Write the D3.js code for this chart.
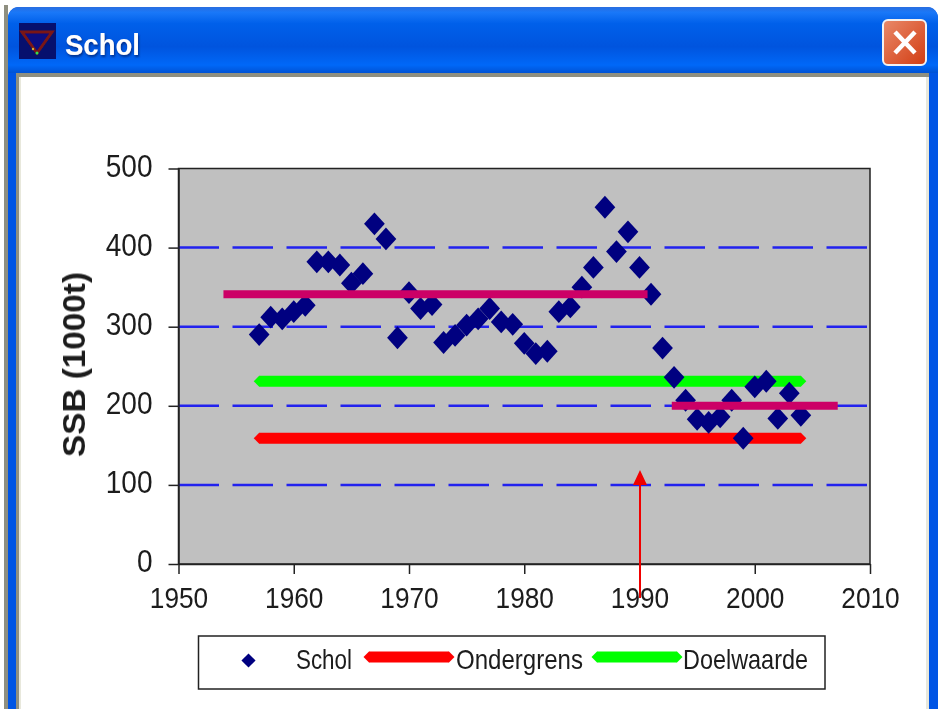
<!DOCTYPE html>
<html>
<head>
<meta charset="utf-8">
<script src="https://cdn.jsdelivr.net/npm/d3@7"></script>
<style>
html, body { margin: 0; padding: 0; background: #fff; }
svg { display: block; }
text { font-family: "Liberation Sans", Arial, sans-serif; fill: #1c1c1c; }
</style>
</head>
<body>
<script>
const years = [1957,1958,1959,1960,1961,1962,1963,1964,1965,1966,1967,1968,1969,1970,1971,1972,1973,1974,1975,1976,1977,1978,1979,1980,1981,1982,1983,1984,1985,1986,1987,1988,1989,1990,1991,1992,1993,1994,1995,1996,1997,1998,1999,2000,2001,2002,2003,2004];
const ssb = [290,312,310,319,327,382,382,378,355,367,430,411,286,343,323,328,280,289,302,310,323,306,303,279,266,269,319,325,350,375,451,395,420,375,341,273,236,207,183,179,186,207,159,224,231,184,216,188];
const xTicks = [1950,1960,1970,1980,1990,2000,2010];
const yTicks = [0,100,200,300,400,500];
const gridValues = [100,200,300,400];
const ondergrens = [[1957,159],[2004,159]];
const doelwaarde = [[1957,231],[2004,231]];
const meanEarly = [[1953.9,341],[1990.7,341]];
const meanLate = [[1992.8,200],[2007.2,200]];
const legendItems = ['Schol','Ondergrens','Doelwaarde'];

const svg = d3.select('body').append('svg').attr('width', 939).attr('height', 709);
const defs = svg.append('defs');

// Window chrome
const titleGrad = defs.append('linearGradient').attr('id', 'titlebar').attr('x1', 0).attr('x2', 0).attr('y1', 0).attr('y2', 1);
[[0, '#2a6ee0'], [0.08, '#1a78f8'], [0.25, '#0060ea'], [0.6, '#0054de'], [0.88, '#0068f8'], [1, '#0052d4']].forEach(d => {
    titleGrad.append('stop').attr('offset', d[0]).attr('stop-color', d[1]);
});
const closeGrad = defs.append('linearGradient').attr('id', 'closebtn').attr('x1', 0).attr('x2', 1).attr('y1', 0).attr('y2', 1);
closeGrad.append('stop').attr('offset', 0).attr('stop-color', '#e98a6a');
closeGrad.append('stop').attr('offset', 1).attr('stop-color', '#d23c12');
defs.append('filter').attr('id', 'soft').append('feGaussianBlur').attr('stdDeviation', 0.55);
const titleFilter = defs.append('filter').attr('id', 'titleshadow');
titleFilter.append('feGaussianBlur').attr('stdDeviation', 0.55).attr('result', 'b');
titleFilter.append('feDropShadow').attr('in', 'b').attr('dx', 1).attr('dy', 2).attr('stdDeviation', 1).attr('flood-color', '#00308f');

const chrome = svg.append('g');
chrome.append('rect').attr('x', 8).attr('y', 7).attr('width', 930).attr('height', 730).attr('rx', 11).attr('fill', '#0055e5');
chrome.append('path').attr('d', 'M8 73V18a11 11 0 0 1 11-11H927a11 11 0 0 1 11 11V73Z').attr('fill', 'url(#titlebar)');
chrome.append('rect').attr('x', 4).attr('y', 5).attr('width', 4).attr('height', 704).attr('fill', '#8f8f80');
chrome.append('rect').attr('x', 16).attr('y', 73).attr('width', 913).attr('height', 636).attr('fill', '#8f8f80');
chrome.append('rect').attr('x', 19).attr('y', 77).attr('width', 910).attr('height', 632).attr('fill', '#e8e8dc');
chrome.append('rect').attr('x', 21).attr('y', 77).attr('width', 905).attr('height', 632).attr('fill', '#fff');
// app icon
chrome.append('rect').attr('x', 19).attr('y', 23).attr('width', 37).attr('height', 36).attr('fill', '#06106e');
chrome.append('path').attr('d', d3.line()([[22, 32], [52, 32], [37, 53]]) + 'Z').attr('fill', '#0a0a80').attr('stroke', '#7a1818').attr('stroke-width', 3).attr('filter', 'url(#soft)');
chrome.append('circle').attr('cx', 37).attr('cy', 53).attr('r', 1.5).attr('fill', '#30e050');
chrome.append('circle').attr('cx', 33).attr('cy', 49).attr('r', 1.2).attr('fill', '#d0b030');
chrome.append('text').attr('x', 65).attr('y', 55).attr('font-size', 30).attr('font-weight', 'bold').attr('textLength', 75).attr('lengthAdjust', 'spacingAndGlyphs')
    .attr('font-family', '"Open Sans"').style('fill', '#fff').attr('filter', 'url(#titleshadow)').text('Schol');
// close button
chrome.append('rect').attr('x', 883).attr('y', 20).attr('width', 43).attr('height', 45).attr('rx', 5)
    .attr('fill', 'url(#closebtn)').attr('stroke', '#f2f2f2').attr('stroke-width', 2);
chrome.append('path').attr('d', 'M895 32L915 53M915 32L895 53').attr('stroke', '#fff').attr('stroke-width', 4.5).attr('fill', 'none').attr('filter', 'url(#soft)');

// Chart
const plot = { left: 178.5, right: 870, top: 168.5, bottom: 564 };
const x = d3.scaleLinear().domain([1950, 2010]).range([plot.left, plot.right]);
const y = d3.scaleLinear().domain([0, 500]).range([plot.bottom, plot.top]);

const g = svg.append('g');
g.append('rect').attr('x', plot.left).attr('y', plot.top).attr('width', plot.right - plot.left).attr('height', plot.bottom - plot.top)
    .attr('fill', '#c0c0c0').attr('stroke', '#222').attr('stroke-width', 1.5);

g.selectAll('.grid').data(gridValues).join('line').attr('class', 'grid')
    .attr('x1', plot.left).attr('x2', plot.right).attr('y1', d => y(d)).attr('y2', d => y(d))
    .attr('stroke', '#2222ee').attr('stroke-width', 2.5).attr('stroke-dasharray', '40.5 13.5');

const line = d3.line().x(d => x(d[0])).y(d => y(d[1]));
// threshold lines get small pointed ends, like the Excel line markers
[[ondergrens, '#ff0000'], [doelwaarde, '#00ff00']].forEach(s => {
    g.append('path').attr('d', line(s[0])).attr('stroke', s[1]).attr('stroke-width', 11).attr('fill', 'none');
    g.selectAll(null).data(s[0]).join('path')
        .attr('transform', d => `translate(${x(d[0])},${y(d[1])}) rotate(45)`)
        .attr('d', d3.symbol(d3.symbolSquare, 60)).attr('fill', s[1]);
});

g.selectAll('.pt').data(years).join('path').attr('class', 'pt')
    .attr('transform', (d, i) => `translate(${x(d)},${y(ssb[i])}) scale(1,1.1) rotate(45)`)
    .attr('d', d3.symbol(d3.symbolSquare, 215)).attr('fill', '#000080');

[meanEarly, meanLate].forEach(s => {
    g.append('path').attr('d', line(s)).attr('stroke', '#cc0066').attr('stroke-width', 8).attr('fill', 'none');
});

// Axes
const xAxis = d3.axisBottom(x).tickValues(xTicks).tickFormat(d3.format('d')).tickSize(10).tickSizeOuter(0).tickPadding(15);
const yAxis = d3.axisLeft(y).tickValues(yTicks).tickSize(10).tickSizeOuter(0).tickPadding(16);
const gx = g.append('g').attr('transform', `translate(0,${plot.bottom})`).call(xAxis);
const gy = g.append('g').attr('transform', `translate(${plot.left},0)`).call(yAxis);
[gx, gy].forEach(a => {
    a.select('.domain').attr('stroke', '#222').attr('stroke-width', 1.5);
    a.selectAll('.tick line').attr('stroke', '#222').attr('stroke-width', 1.5);
    a.selectAll('text').attr('font-size', 31).attr('font-family', '"Liberation Sans", Arial, sans-serif')
        .attr('lengthAdjust', 'spacingAndGlyphs').attr('filter', 'url(#soft)');
});
gx.selectAll('text').attr('y', 23).attr('dy', '0.71em').attr('font-size', 30)
    .attr('textLength', function () { return this.textContent.length * 14.6; });
gy.selectAll('text').attr('y', -2)
    .attr('textLength', function () { return this.textContent.length * 15.6; });

g.append('text').attr('transform', 'translate(85,364.5) rotate(-90)').attr('text-anchor', 'middle')
    .attr('font-size', 32).attr('font-weight', 'bold').attr('textLength', 185).attr('lengthAdjust', 'spacingAndGlyphs')
    .attr('filter', 'url(#soft)').text('SSB (1000t)');

// Arrow pointing at 1990
const arrowX = 640;
g.append('line').attr('x1', arrowX).attr('x2', arrowX).attr('y1', 598).attr('y2', 482).attr('stroke', '#f00000').attr('stroke-width', 2);
g.append('path').attr('d', d3.line()([[arrowX - 7, 485], [arrowX + 7, 485], [arrowX, 470]]) + 'Z').attr('fill', '#f00000');

// Legend
const legend = svg.append('g');
legend.append('rect').attr('x', 198.5).attr('y', 636).attr('width', 626.5).attr('height', 53).attr('fill', '#fff').attr('stroke', '#222').attr('stroke-width', 1.5);
legend.append('path').attr('d', d3.symbol(d3.symbolSquare, 100)).attr('fill', '#000080')
    .attr('transform', 'translate(248.5,660.5) rotate(45)');
[[369, 449, '#ff0000'], [597, 677, '#00ff00']].forEach(s => {
    legend.append('path').attr('d', d3.line()([[s[0], 657], [s[1], 657]])).attr('stroke', s[2]).attr('stroke-width', 11).attr('fill', 'none');
    legend.selectAll(null).data([s[0], s[1]]).join('path').attr('transform', d => `translate(${d},657) rotate(45)`)
        .attr('d', d3.symbol(d3.symbolSquare, 60)).attr('fill', s[2]);
});
legend.selectAll('.lab').data(legendItems).join('text').attr('class', 'lab')
    .attr('x', (d, i) => [296, 456, 683][i]).attr('y', 669)
    .attr('textLength', (d, i) => [56, 127, 125][i]).attr('lengthAdjust', 'spacingAndGlyphs')
    .attr('font-size', 28).attr('filter', 'url(#soft)').text(d => d);
</script>
</body>
</html>
